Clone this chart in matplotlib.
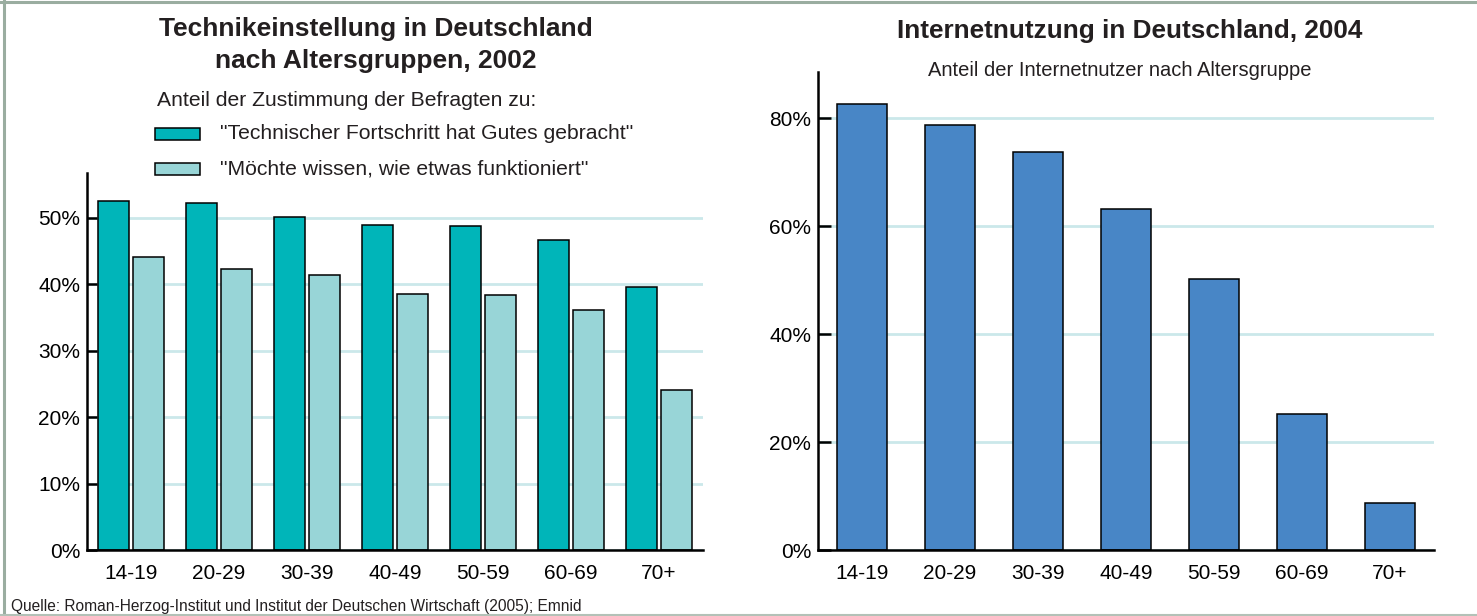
import matplotlib
matplotlib.use("Agg")
import matplotlib.pyplot as plt
from matplotlib.patches import Rectangle
from matplotlib.lines import Line2D
import numpy as np

# data
age_groups = ["14-19", "20-29", "30-39", "40-49", "50-59", "60-69", "70+"]
fortschritt = [52.5, 52.2, 50.1, 48.9, 48.8, 46.6, 39.6]
funktioniert = [44.1, 42.3, 41.3, 38.5, 38.3, 36.1, 24.1]
internet_2004 = [82.7, 78.8, 73.8, 63.2, 50.3, 25.3, 8.8]

left_ticks = [0, 10, 20, 30, 40, 50]
right_ticks = [0, 20, 40, 60, 80]

dark_teal = "#00b5b9"
light_teal = "#98d5d7"
blue = "#4886c6"
grid_col = "#cbe8ea"
txt = "#231f20"

plt.rcParams['font.family'] = 'Liberation Sans'

W, H = 1477, 616
fig = plt.figure(figsize=(W / 100, H / 100), dpi=100)


def fx(px):
    return px / W


def fy(py):
    return 1 - py / H


def style_axes(ax, ticks, ticklen):
    for s in ["top", "right"]:
        ax.spines[s].set_visible(False)
    ax.spines["left"].set_linewidth(1.8)
    ax.spines["bottom"].set_linewidth(1.8)
    ax.set_yticks(ticks)
    ax.set_yticklabels([f"{t}%" for t in ticks])
    ax.tick_params(axis="y", direction="in", length=ticklen, width=1.8, labelsize=15, pad=5)
    ax.tick_params(axis="x", length=0, labelsize=15, pad=10)
    ax.grid(axis="y", color=grid_col, linewidth=2)
    ax.set_axisbelow(True)


x = np.arange(len(age_groups))

# left chart
ax1 = fig.add_axes([fx(87), fy(550), fx(616), (550 - 173) / H])
ax1.bar(x - 0.2, fortschritt, width=0.36, color=dark_teal, edgecolor="black", linewidth=1.1)
ax1.bar(x + 0.2, funktioniert, width=0.36, color=light_teal, edgecolor="black", linewidth=1.1)
ax1.set_xlim(-0.5, 6.5)
ax1.set_ylim(0, 56.7)
ax1.set_xticks(x)
ax1.set_xticklabels(age_groups)
style_axes(ax1, left_ticks, 7)

# right chart
ax2 = fig.add_axes([fx(818), fy(550), fx(616), (550 - 72) / H])
ax2.bar(x, internet_2004, width=0.56, color=blue, edgecolor="black", linewidth=1.1)
ax2.set_xlim(-0.5, 6.5)
ax2.set_ylim(0, 88.6)
ax2.set_xticks(x)
ax2.set_xticklabels(age_groups)
style_axes(ax2, right_ticks, 9)

# titles and legend
fig.text(fx(376), fy(29), "Technikeinstellung in Deutschland",
         ha="center", va="center", fontsize=19, fontweight="bold", color=txt)
fig.text(fx(376), fy(61), "nach Altersgruppen, 2002",
         ha="center", va="center", fontsize=19, fontweight="bold", color=txt)
fig.text(fx(347), fy(100), "Anteil der Zustimmung der Befragten zu:",
         ha="center", va="center", fontsize=15.2, color=txt)

legend_items = [(dark_teal, '"Technischer Fortschritt hat Gutes gebracht"', 134),
                (light_teal, '"Möchte wissen, wie etwas funktioniert"', 169)]
for col, label, yc in legend_items:
    fig.patches.append(Rectangle((fx(155), fy(yc + 6)), fx(45), 12 / H, transform=fig.transFigure,
                                 facecolor=col, edgecolor="black", linewidth=1.1))
    fig.text(fx(220), fy(yc), label, ha="left", va="center", fontsize=15.2, color=txt)

fig.text(fx(1130), fy(31), "Internetnutzung in Deutschland, 2004",
         ha="center", va="center", fontsize=18.8, fontweight="bold", color=txt)
fig.text(fx(1120), fy(71), "Anteil der Internetnutzer nach Altersgruppe",
         ha="center", va="center", fontsize=14.5, color=txt)

fig.text(fx(11), fy(606), "Quelle: Roman-Herzog-Institut und Institut der Deutschen Wirtschaft (2005); Emnid",
         ha="left", va="center", fontsize=11.2, color=txt)

# frame
frame_col = "#9aada0"
fig.lines.append(Line2D([0, 1], [fy(1.5), fy(1.5)], transform=fig.transFigure, color=frame_col, linewidth=2.2))
fig.lines.append(Line2D([fx(4), fx(4)], [fy(0), fy(615)], transform=fig.transFigure, color=frame_col, linewidth=2.2))
fig.lines.append(Line2D([0, 1], [fy(614.5), fy(614.5)], transform=fig.transFigure, color="#b3c1b7", linewidth=1.5))

fig.savefig("out.png", dpi=100)
